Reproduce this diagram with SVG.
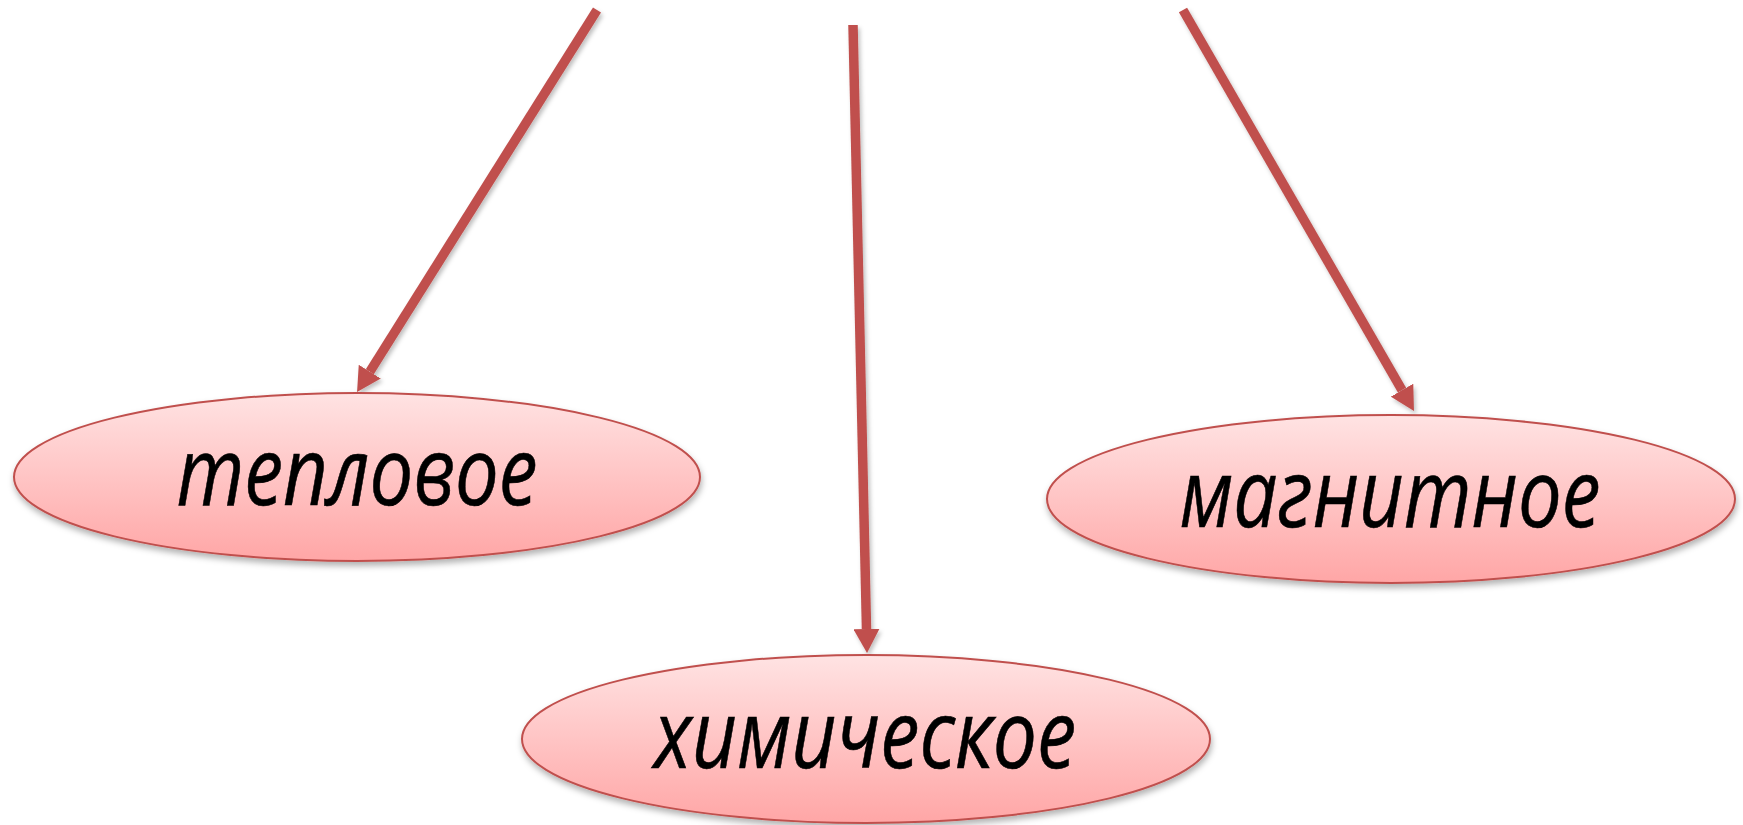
<svg xmlns="http://www.w3.org/2000/svg" width="1743" height="825" viewBox="0 0 1743 825">
<style>
.node ellipse{fill:url(#g);stroke:#C0504D;stroke-width:2;filter:url(#sh)}
.node text{font-family:"Open Sans","Liberation Sans",sans-serif;font-style:italic;font-size:96px;fill:#000;text-anchor:middle;stroke:#000;stroke-width:0.6}
.conn line{stroke:#C0504D;stroke-width:9.5;marker-end:url(#ah);filter:url(#sh2)}
</style>
<defs>
<linearGradient id="g" x1="0" y1="0" x2="0" y2="1">
<stop offset="0" stop-color="#FFE3E3"/>
<stop offset="1" stop-color="#FFA6A6"/>
</linearGradient>
<filter id="sh" x="-10%" y="-20%" width="120%" height="150%">
<feDropShadow dx="1" dy="4" stdDeviation="3" flood-color="#000" flood-opacity="0.3"/>
</filter>
<filter id="sh2" filterUnits="userSpaceOnUse" x="0" y="0" width="1743" height="825">
<feDropShadow dx="2" dy="3" stdDeviation="2" flood-color="#000" flood-opacity="0.25"/>
</filter>
<marker id="ah" viewBox="0 0 24 26" refX="0" refY="13" markerWidth="24" markerHeight="26" markerUnits="userSpaceOnUse" orient="auto">
<path d="M0,0 L24,13 L0,26 z" fill="#C0504D"/>
</marker>
</defs>
<g id="connectors" class="conn">
<line x1="597" y1="10" x2="369.8" y2="371.7"/>
<line x1="853" y1="25" x2="866.5" y2="629"/>
<line x1="1183" y1="10" x2="1402" y2="390.2"/>
</g>
<g id="node-teplovoe" class="node">
<ellipse cx="357" cy="477" rx="343" ry="84"/>
<text x="357" y="505" textLength="361" lengthAdjust="spacingAndGlyphs">тепловое</text>
</g>
<g id="node-magnitnoe" class="node">
<ellipse cx="1391" cy="499" rx="344" ry="84"/>
<text x="1390" y="527" textLength="421" lengthAdjust="spacingAndGlyphs">магнитное</text>
</g>
<g id="node-himicheskoe" class="node">
<ellipse cx="866" cy="739" rx="344" ry="84"/>
<text x="865" y="768" textLength="422" lengthAdjust="spacingAndGlyphs">химическое</text>
</g>
</svg>
